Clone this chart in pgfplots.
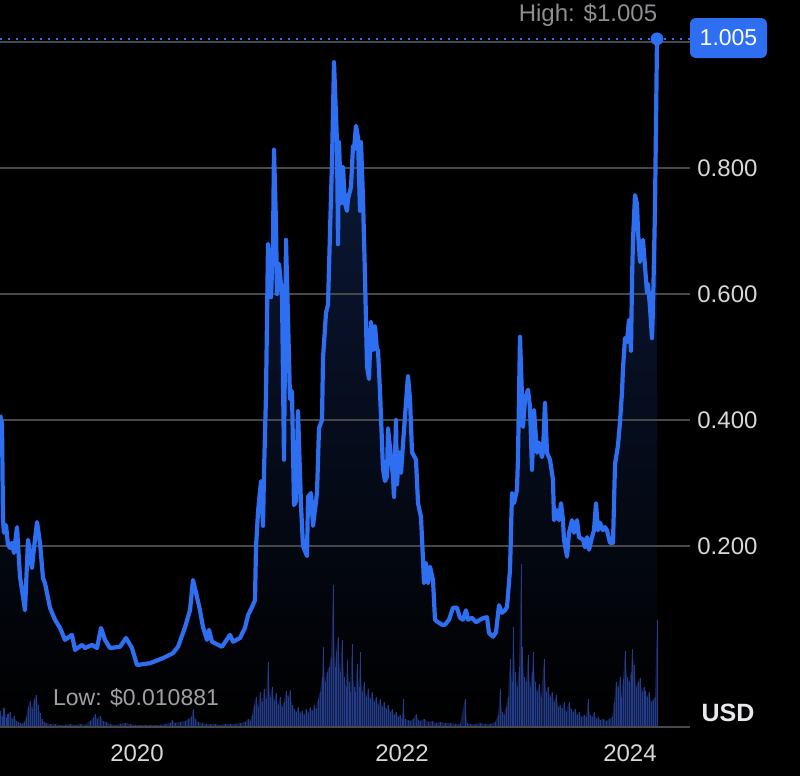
\documentclass[border=0pt]{standalone}
\usepackage{pgfplots}
\usepackage{pgfplotstable}
\pgfplotsset{compat=1.18}
\usepackage{fontspec}
\setmainfont{Liberation Sans}
\definecolor{lineblue}{RGB}{46,110,240}
\definecolor{gridgrey}{RGB}{72,72,75}
\definecolor{volblue}{RGB}{36,60,138}
\definecolor{volbase}{RGB}{22,38,90}
\definecolor{navytop}{RGB}{13,28,64}
\definecolor{ticktext}{RGB}{215,215,218}
\definecolor{dimtext}{RGB}{142,142,147}
\definecolor{lowtext}{RGB}{160,160,163}
\definecolor{usdtext}{RGB}{232,232,236}

\pgfplotstableread{
x y
0 0.408
2 0.395
3 0.241
4 0.221
6 0.233
8 0.202
10 0.197
12 0.205
14 0.189
17 0.230
20 0.151
25 0.098
28 0.210
32 0.165
33 0.183
37 0.238
40 0.205
43 0.149
45 0.141
50 0.102
55 0.083
60 0.070
65 0.051
72 0.059
75 0.035
82 0.043
85 0.038
92 0.043
97 0.038
101 0.070
105 0.051
110 0.038
120 0.040
126 0.054
132 0.038
137 0.011
150 0.014
163 0.022
173 0.030
178 0.040
185 0.071
190 0.098
193 0.146
197 0.119
200 0.098
203 0.071
207 0.051
209 0.067
212 0.048
222 0.040
230 0.059
233 0.048
240 0.054
245 0.070
248 0.090
252 0.103
255 0.114
256 0.198
258 0.254
261 0.303
263 0.232
264 0.316
266 0.440
268 0.679
271 0.595
273 0.679
274 0.829
276 0.711
277 0.600
279 0.648
282 0.600
284 0.337
286 0.686
288 0.562
290 0.433
292 0.446
294 0.265
296 0.271
298 0.414
301 0.265
303 0.200
307 0.184
308 0.278
311 0.284
313 0.232
317 0.284
319 0.387
322 0.400
323 0.498
326 0.570
328 0.583
330 0.698
332 0.810
334 0.968
337 0.841
338 0.679
339 0.841
341 0.744
343 0.802
345 0.744
347 0.732
348 0.751
351 0.770
353 0.835
354 0.829
356 0.867
358 0.848
360 0.732
361 0.841
363 0.751
365 0.627
367 0.486
369 0.465
371 0.556
373 0.511
375 0.549
377 0.511
378 0.511
380 0.446
383 0.322
385 0.303
387 0.310
388 0.387
390 0.356
393 0.310
394 0.278
396 0.400
397 0.298
399 0.349
401 0.316
403 0.362
405 0.406
408 0.470
410 0.433
412 0.349
414 0.343
416 0.337
418 0.268
421 0.246
423 0.178
424 0.141
426 0.173
428 0.141
430 0.167
433 0.146
435 0.083
438 0.079
442 0.075
445 0.075
449 0.083
453 0.102
457 0.102
460 0.086
463 0.083
466 0.098
468 0.083
472 0.086
476 0.079
480 0.083
484 0.086
487 0.087
489 0.062
493 0.056
496 0.063
499 0.106
502 0.094
505 0.098
507 0.103
510 0.162
512 0.284
514 0.268
517 0.289
518 0.341
520 0.532
523 0.389
525 0.432
528 0.448
530 0.421
532 0.321
534 0.416
537 0.348
539 0.364
542 0.341
543 0.352
545 0.427
547 0.348
550 0.337
553 0.305
554 0.241
557 0.257
559 0.241
561 0.268
563 0.241
564 0.210
567 0.183
569 0.221
572 0.241
574 0.221
577 0.241
579 0.214
583 0.210
585 0.198
587 0.214
589 0.194
592 0.214
594 0.225
596 0.268
598 0.225
600 0.237
603 0.225
605 0.230
607 0.225
610 0.205
613 0.205
615 0.330
618 0.360
620 0.397
622 0.444
623 0.482
625 0.530
627 0.524
629 0.559
631 0.510
632 0.622
633 0.686
635 0.757
637 0.743
638 0.700
640 0.651
642 0.679
643 0.686
645 0.644
647 0.602
648 0.616
650 0.579
652 0.530
653 0.579
655 0.736
657 1.005
}\price

\pgfplotstableread{
x h
0 16
2 10
4 19
6 9
8 13
10 15
12 8
14 11
16 6
18 5
20 4
22 3
24 5
26 10
28 20
30 26
32 18
34 28
36 32
38 22
40 14
42 8
44 5
46 4
50 3
55 3
60 2
65 2
70 3
75 2
80 3
85 2
90 6
93 9
95 13
97 8
100 11
103 6
106 5
110 3
115 2
120 3
125 4
130 3
135 2
140 2
145 2
150 2
155 2
160 2
165 3
170 4
172 7
175 4
180 5
185 6
188 8
191 10
193 18
195 8
198 5
202 4
206 3
210 3
215 3
220 2
225 3
230 3
235 3
240 4
245 5
248 8
250 6
252 12
254 22
256 30
258 20
260 35
262 25
264 38
266 28
268 65
270 30
272 40
274 26
276 34
278 22
280 30
282 20
284 25
286 36
288 30
290 37
292 22
294 18
296 15
298 20
300 14
302 16
304 12
306 18
308 14
310 20
312 16
314 22
316 18
318 28
320 35
322 50
323 80
325 45
327 55
329 60
331 70
333 142
335 60
336 75
338 90
340 55
342 87
344 50
346 40
347 67
349 45
350 35
352 83
354 40
355 35
357 63
359 40
360 75
362 35
364 45
366 30
368 38
370 28
372 35
374 25
376 30
378 22
380 28
382 20
384 25
386 18
388 22
390 15
392 18
394 12
396 15
398 10
400 12
402 8
403 28
405 8
408 7
410 6
413 8
416 13
418 7
420 6
424 8
428 5
432 6
436 4
440 5
445 4
450 4
455 3
460 3
465 28
467 4
470 3
475 3
480 4
485 3
490 3
495 5
498 12
500 38
502 15
504 12
506 20
508 30
510 68
512 45
513 100
515 55
517 40
519 60
521 163
522 80
524 50
526 45
528 72
530 40
532 55
533 75
535 45
537 35
539 43
541 30
544 68
546 35
548 40
550 30
552 35
554 25
556 32
558 20
560 22
562 18
564 25
566 15
569 25
571 18
573 15
575 18
577 12
579 15
581 10
584 12
586 10
588 28
590 12
592 10
594 15
596 8
598 10
600 7
603 8
606 6
609 8
612 10
614 25
616 45
618 40
620 50
621 30
623 48
625 76
627 50
629 45
631 55
632 78
634 62
636 40
638 45
640 49
642 35
644 40
645 36
647 30
649 35
651 25
653 27
655 30
657 107
}\volume

\pgfplotsset{
  every axis/.append style={
    scale only axis, width=345pt, height=363.5pt,
    xmin=0, xmax=690, hide axis, clip=false,
    at={(0,0)}, anchor=south west
  },
  priceaxis/.style={ymin=-0.0873, ymax=1.0667}
}

\begin{document}
\begin{tikzpicture}
\fill[black] (0,-24.5pt) rectangle (400pt,363.5pt);

% fill and grid
\begin{axis}[priceaxis]
\addplot[draw=none, top color=navytop, bottom color=black] table[x=x,y=y] {\price} |- (axis cs:0,-0.0873) -- cycle;
\foreach \v in {0.2,0.4,0.6,0.8,1.0} {
  \edef\temp{\noexpand\draw[gridgrey, line width=0.9pt] (axis cs:0,\v) -- (axis cs:690,\v);}
  \temp
}
\end{axis}

% volume
\begin{axis}[ymin=0, ymax=727]
\addplot[draw=none, fill=volbase, fill opacity=0.8] table[x=x,y=h] {\volume} |- (axis cs:0,0) -- cycle;
\addplot[ycomb, volblue, line width=0.5pt, mark=none] table[x=x,y=h] {\volume};
\end{axis}

% price line and labels
\begin{axis}[priceaxis]
\draw[gridgrey, line width=0.9pt] (axis cs:0,-0.0873) -- (axis cs:690,-0.0873);
\draw[lineblue, line width=1pt, dash pattern=on 1pt off 3pt] (axis cs:0,1.005) -- (axis cs:690,1.005);
\addplot[lineblue, line width=2.1pt, line join=round, mark=none] table[x=x,y=y] {\price};
\addplot[only marks, mark=*, mark size=3pt, lineblue] coordinates {(657,1.005)};
\fill[lineblue, rounded corners=3pt] (axis cs:690,0.9746) rectangle (axis cs:767,1.0381);
\node[white, font=\fontsize{11.5}{13}\selectfont] at (axis cs:728.5,1.0063) {1.005};
\foreach \v/\l in {0.8/0.800,0.6/0.600,0.4/0.400,0.2/0.200} {
  \edef\temp{\noexpand\node[ticktext, anchor=west, inner sep=0pt, font=\noexpand\fontsize{12}{14}\noexpand\selectfont] at (axis cs:697,\v) {\l};}
  \temp
}
\node[dimtext, font=\fontsize{12}{14}\selectfont] at (axis cs:588,1.043) {High: \$1.005};
\node[lowtext, font=\fontsize{11.5}{13}\selectfont] at (axis cs:136,-0.0413) {Low: \$0.010881};
\node[usdtext, font=\fontsize{12.5}{14}\selectfont\bfseries] at (axis cs:728,-0.0643) {USD};
\foreach \xx/\l in {137/2020,402/2022,630/2024} {
  \edef\temp{\noexpand\node[ticktext, font=\noexpand\fontsize{12}{14}\noexpand\selectfont] at (axis cs:\xx,-0.129) {\l};}
  \temp
}
\end{axis}
\pgfresetboundingbox
\useasboundingbox (0,-24.5pt) rectangle (400pt,363.5pt);
\end{tikzpicture}
\end{document}
